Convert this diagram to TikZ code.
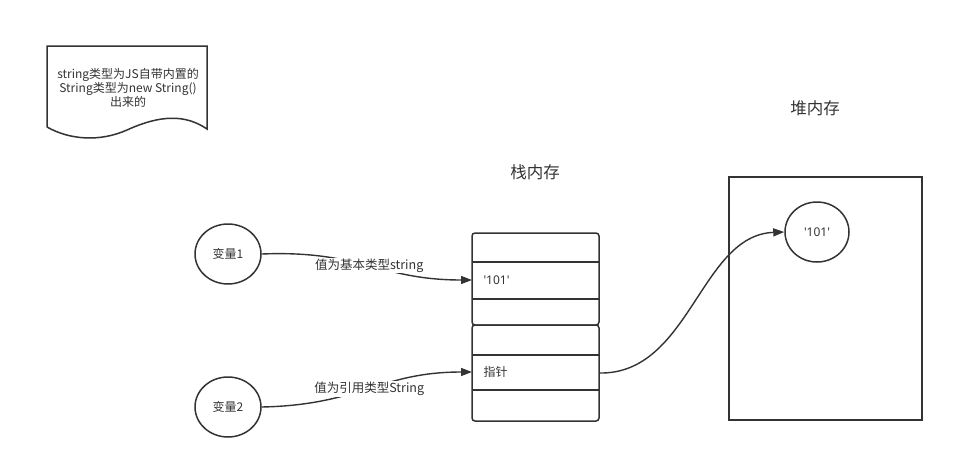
\documentclass[tikz,border=0pt]{standalone}
\usepackage{fontspec}
\setmainfont{Noto Sans CJK SC}
\newfontfamily\latinfont{Noto Sans}
\usetikzlibrary{arrows.meta,shapes.geometric}
\definecolor{ink}{HTML}{333333}
\newcommand{\quoted}[1]{{\latinfont\char39\relax #1\char39\relax}}
\begin{document}
\begin{tikzpicture}[x=1pt,y=-1pt,
  every node/.style={font=\fontsize{12}{15}\selectfont, text=ink},
  shp/.style={draw=ink, line width=1.5pt},
  var/.style={shp, ellipse, minimum width=66pt, minimum height=60pt, inner sep=0pt},
  cell/.style={shp, rounded corners=3pt},
  conn/.style={draw=ink, line width=1.4pt, -{Triangle[length=11pt,width=8pt]}},
  lbl/.style={fill=white, inner sep=1pt, font=\fontsize{12.5}{15}\selectfont}]
\useasboundingbox (0,0) rectangle (954,469);
% document note
\draw[shp] (47,127) -- (47,46) -- (207,46) -- (207,129)
  .. controls (185,114) and (160,115) .. (127,130)
  .. controls (100,142) and (70,140) .. (47,127);
\node[align=center] (note) at (128,88) {string类型为JS自带内置的\\[-1pt]String类型为new String()\\[-1pt]出来的};
% titles
\node (stacktitle) at (535,172) {\fontsize{16.5}{18}\selectfont 栈内存};
\node (heaptitle) at (815,108) {\fontsize{16.5}{18}\selectfont 堆内存};
% variables
\node[var] (v1) at (228,254) {变量1};
\node[var] (v2) at (228,407) {变量2};
% stack
\draw[cell] (472,233) rectangle (599,325);
\draw[shp] (472,262) -- (599,262);
\draw[shp] (472,299) -- (599,299);
\draw[cell] (472,325) rectangle (599,421);
\draw[shp] (472,355) -- (599,355);
\draw[shp] (472,390) -- (599,390);
\coordinate (s1) at (472,280);
\coordinate (s2) at (472,372);
\coordinate (s2r) at (599,373);
\node[anchor=west] (val) at (480,280) {\quoted{101}};
\node[anchor=west] (ptr) at (480,372) {指针};
% heap
\node[shp, minimum width=193pt, minimum height=243pt, inner sep=0pt] (heap) at (825.5,298.5) {};
\node[var, minimum width=64pt, minimum height=60pt] (h101) at (817,232) {\quoted{101}};
% connectors
\draw[conn] (v1.east) .. controls (360,250) and (380,280) .. (s1)
  node[lbl, pos=0.5] (l1) {值为基本类型string};
\draw[conn] (v2.east) .. controls (360,405) and (380,372) .. (s2)
  node[lbl, pos=0.5] (l2) {值为引用类型String};
\draw[conn] (s2r) .. controls (690,375) and (700,235) .. (h101.west);
\end{tikzpicture}
\end{document}
